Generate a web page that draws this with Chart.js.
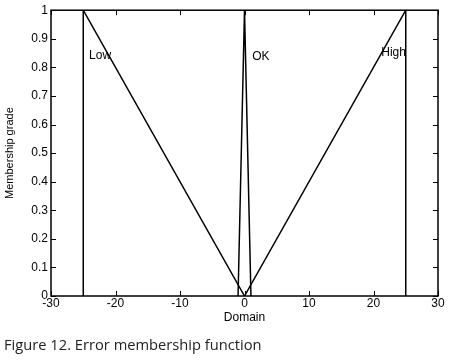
<!DOCTYPE html>
<html>
<head>
<meta charset="utf-8">
<script src="https://cdn.jsdelivr.net/npm/chart.js@4.4.0/dist/chart.umd.min.js"></script>
<style>
  html, body { margin: 0; padding: 0; background: #fff; }
  #wrap { position: relative; width: 450px; height: 363px; }
  #caption { position: absolute; left: 4px; top: 334px; font-family: "Open Sans", sans-serif; font-size: 14.7px; line-height: 20px; color: #222; white-space: nowrap; }
</style>
</head>
<body>
<div id="wrap">
  <canvas id="c" width="450" height="363"></canvas>
  <div id="caption">Figure 12. Error membership function</div>
</div>
<script>
// Membership functions (x = domain, y = membership grade)
const lowX  = [-25, -25, 0];
const lowY  = [0, 1, 0];
const okX   = [-1, 0, 1];
const okY   = [0, 1, 0];
const highX = [0, 25, 25];
const highY = [0, 1, 0];

const xTicks = [-30, -20, -10, 0, 10, 20, 30];
const yTicks = [0, 0.1, 0.2, 0.3, 0.4, 0.5, 0.6, 0.7, 0.8, 0.9, 1];

const labelNames = ['Low', 'OK', 'High'];
const labelXs = [-24.1, 1.2, 21.2];
const labelYs = [0.841, 0.839, 0.851];

function pts(xs, ys) { return xs.map((x, i) => ({x: x, y: ys[i]})); }

const FONT = '"Liberation Sans", Arial, sans-serif';

const boxPlugin = {
  id: 'boxTicks',
  afterDraw(chart) {
    const ctx = chart.ctx;
    const a = chart.chartArea;
    const xs = chart.scales.x, ys = chart.scales.y;
    ctx.save();
    ctx.strokeStyle = '#000';
    ctx.lineWidth = 1.5;
    ctx.strokeRect(a.left, a.top, a.right - a.left, a.bottom - a.top);
    ctx.lineWidth = 1;
    const L = 5;
    ctx.beginPath();
    xTicks.forEach(v => {
      const p = Math.round(xs.getPixelForValue(v)) + 0.5;
      ctx.moveTo(p, a.bottom); ctx.lineTo(p, a.bottom - L);
      ctx.moveTo(p, a.top); ctx.lineTo(p, a.top + L);
    });
    yTicks.forEach(v => {
      const p = Math.round(ys.getPixelForValue(v)) + 0.5;
      ctx.moveTo(a.left, p); ctx.lineTo(a.left + L, p);
      ctx.moveTo(a.right, p); ctx.lineTo(a.right - L, p);
    });
    ctx.stroke();
    ctx.fillStyle = '#000';
    ctx.font = '12px ' + FONT;
    ctx.textBaseline = 'middle';
    ctx.textAlign = 'left';
    labelNames.forEach((t, i) => {
      ctx.fillText(t, xs.getPixelForValue(labelXs[i]), ys.getPixelForValue(labelYs[i]));
    });
    ctx.restore();
  }
};

const lineStyle = { borderColor: '#000', borderWidth: 1.5, pointRadius: 0, showLine: true, fill: false, tension: 0 };

new Chart(document.getElementById('c'), {
  type: 'scatter',
  data: {
    datasets: [
      Object.assign({ label: 'Low', data: pts(lowX, lowY) }, lineStyle),
      Object.assign({ label: 'OK', data: pts(okX, okY) }, lineStyle),
      Object.assign({ label: 'High', data: pts(highX, highY) }, lineStyle)
    ]
  },
  options: {
    responsive: false,
    animation: false,
    devicePixelRatio: 1,
    layout: { padding: { left: 0, right: 12, top: 10, bottom: 38.4 } },
    plugins: { legend: { display: false }, tooltip: { enabled: false } },
    scales: {
      x: {
        type: 'linear', min: -30, max: 30,
        afterBuildTicks(s) { s.ticks = xTicks.map(v => ({ value: v })); },
        afterFit(s) { s.height = 28.6; },
        grid: { display: false, drawTicks: false },
        border: { display: false },
        ticks: { color: '#000', padding: 0, maxRotation: 0, autoSkip: false, callback: v => String(v), font: { family: FONT, size: 12 } },
        title: { display: true, text: 'Domain', color: '#000', padding: { top: 0, bottom: 0 }, font: { family: FONT, size: 12 } }
      },
      y: {
        type: 'linear', min: 0, max: 1,
        afterBuildTicks(s) { s.ticks = yTicks.map(v => ({ value: v })); },
        afterFit(s) { s.width = 51; },
        grid: { display: false, drawTicks: false },
        border: { display: false },
        ticks: { color: '#000', padding: 3, autoSkip: false, callback: v => String(v), font: { family: FONT, size: 12 } },
        title: { display: true, text: 'Membership grade', color: '#000', padding: { top: 3, bottom: 0 }, font: { family: FONT, size: 11 } }
      }
    }
  },
  plugins: [boxPlugin]
});
</script>
</body>
</html>
